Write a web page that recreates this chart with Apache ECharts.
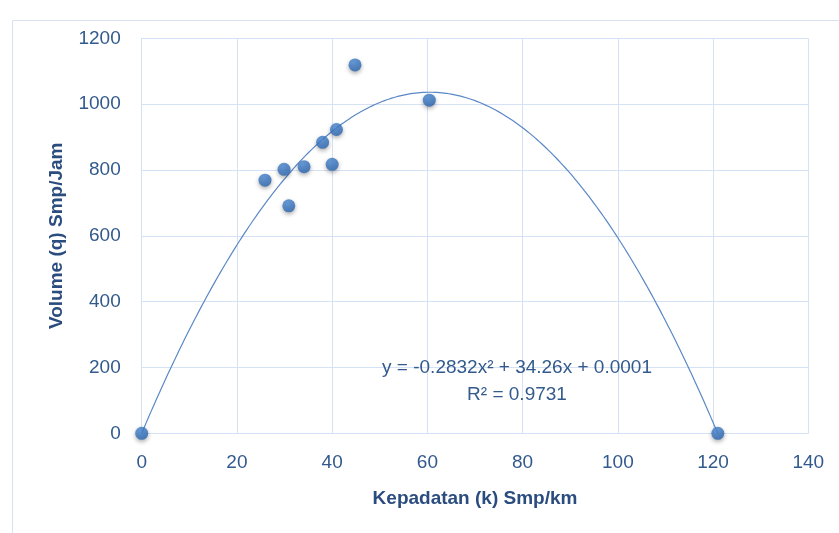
<!DOCTYPE html>
<html>
<head>
<meta charset="utf-8">
<script src="https://cdn.jsdelivr.net/npm/echarts@6/dist/echarts.min.js"></script>
<style>
  html, body { margin: 0; padding: 0; background: #fff; }
  #chart { width: 839px; height: 533px; }
</style>
</head>
<body>
<div id="chart"></div>
<script>
// Observed density (k, smp/km) and flow (q, smp/jam)
const kepadatan = [0, 25.9, 29.9, 30.9, 34.1, 38.0, 40.0, 40.9, 44.8, 60.4, 121];
const volume    = [0, 769, 802, 691, 810, 884, 817, 923, 1119, 1012, 0];

// Polynomial trendline coefficients (q = a k^2 + b k + c) and fit quality
const koefA = -0.2832;
const koefB = 34.26;
const koefC = 0.0001;
const rKuadrat = 0.9731;

const xTicks = { min: 0, max: 140, interval: 20 };
const yTicks = { min: 0, max: 1200, interval: 200 };

const textColor = '#335a8d';
const titleColor = '#2b4c7e';
const gridColor = '#d5e2f5';

// Sample the trendline across the observed density range
const kMax = Math.max.apply(null, kepadatan);
const trend = [];
for (let i = 0; i <= 242; i++) {
  const k = kMax * i / 242;
  trend.push([k, koefA * k * k + koefB * k + koefC]);
}

const points = kepadatan.map((k, i) => [k, volume[i]]);

const chart = echarts.init(document.getElementById('chart'), null, { renderer: 'canvas' });
chart.setOption({
  animation: false,
  backgroundColor: '#ffffff',
  textStyle: { fontFamily: 'Liberation Sans, Arial, sans-serif' },
  grid: { left: 141.7, right: 30.7, top: 38.3, bottom: 99.7, containLabel: false },
  xAxis: {
    type: 'value',
    min: xTicks.min, max: xTicks.max, interval: xTicks.interval,
    name: 'Kepadatan (k) Smp/km',
    nameLocation: 'middle',
    nameGap: 56,
    nameTextStyle: { color: titleColor, fontSize: 19, fontWeight: 'bold' },
    axisLine: { show: true, lineStyle: { color: gridColor, width: 1 } },
    axisTick: { show: false },
    axisLabel: { color: textColor, fontSize: 19, margin: 20, formatter: v => String(v) },
    splitLine: { show: true, lineStyle: { color: gridColor, width: 1 } }
  },
  yAxis: {
    type: 'value',
    min: yTicks.min, max: yTicks.max, interval: yTicks.interval,
    name: 'Volume (q) Smp/Jam',
    nameLocation: 'middle',
    nameGap: 75,
    nameTextStyle: { color: titleColor, fontSize: 19, fontWeight: 'bold' },
    axisLine: { show: true, lineStyle: { color: gridColor, width: 1 } },
    axisTick: { show: false },
    axisLabel: { color: textColor, fontSize: 19, margin: 21, formatter: v => String(v) },
    splitLine: { show: true, lineStyle: { color: gridColor, width: 1 } }
  },
  series: [
    {
      name: 'Trendline',
      type: 'line',
      data: trend,
      showSymbol: false,
      smooth: false,
      lineStyle: { color: '#5a88c6', width: 1.2 },
      z: 2
    },
    {
      name: 'Data',
      type: 'scatter',
      data: points,
      symbolSize: 13,
      itemStyle: {
        color: {
          type: 'radial', x: 0.4, y: 0.35, r: 0.7,
          colorStops: [
            { offset: 0, color: '#4b8ad6' },
            { offset: 1, color: '#2864ae' }
          ]
        },
        shadowBlur: 4,
        shadowColor: 'rgba(0,0,0,0.4)',
        shadowOffsetX: 0,
        shadowOffsetY: 2
      },
      z: 3
    }
  ],
  graphic: [
    {
      type: 'rect',
      shape: { x: 12.5, y: 20.5, width: 900, height: 600 },
      style: { fill: 'none', stroke: '#d6e1f1', lineWidth: 1 },
      silent: true, z: -1
    },
    {
      type: 'text',
      x: 517, y: 368,
      style: {
        text: 'y = -' + Math.abs(koefA) + 'x² + ' + koefB + 'x + ' + koefC.toFixed(4),
        fill: textColor, fontSize: 19,
        fontFamily: 'Liberation Sans, Arial, sans-serif',
        align: 'center', verticalAlign: 'middle'
      },
      z: 10
    },
    {
      type: 'text',
      x: 517, y: 395,
      style: {
        text: 'R² = ' + rKuadrat,
        fill: textColor, fontSize: 19,
        fontFamily: 'Liberation Sans, Arial, sans-serif',
        align: 'center', verticalAlign: 'middle'
      },
      z: 10
    }
  ]
});
</script>
</body>
</html>
